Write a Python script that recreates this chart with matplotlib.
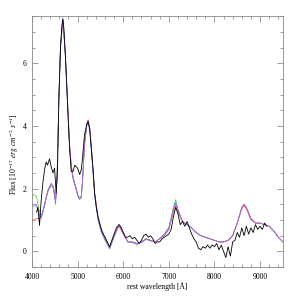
#!/usr/bin/env python3
"""Observed spectrum vs. four model spectra."""
import matplotlib

matplotlib.use("Agg")
import matplotlib.pyplot as plt
from matplotlib.ticker import MultipleLocator

plt.rcParams["font.family"] = ["Liberation Serif", "DejaVu Serif"]
plt.rcParams["mathtext.fontset"] = "stix"

# observed spectrum (black)
obs_wave = [
    4100, 4130, 4165, 4200, 4240, 4275, 4310, 4340, 4385, 4420,
    4460, 4495, 4530, 4560, 4590, 4625, 4655, 4677, 4700, 4740,
    4773, 4800, 4824, 4860, 4900, 4940, 4970, 5000, 5045, 5080,
    5103, 5150, 5200, 5230, 5260, 5300, 5340, 5374, 5410, 5447,
    5480, 5520, 5560, 5600, 5650, 5703, 5750, 5800, 5850, 5908,
    5950, 6000, 6050, 6100, 6150, 6200, 6250, 6300, 6350, 6400,
    6450, 6500, 6550, 6600, 6650, 6700, 6750, 6800, 6850, 6900,
    6950, 7000, 7050, 7100, 7150, 7200, 7250, 7300, 7350, 7400,
    7450, 7500, 7550, 7600, 7650, 7700, 7750, 7800, 7850, 7900,
    7950, 8000, 8050, 8100, 8150, 8200, 8250, 8300, 8350, 8400,
    8450, 8500, 8550, 8600, 8650, 8700, 8750, 8800, 8850, 8900,
    8950, 9000, 9050, 9100, 9150,
]
obs_flux = [
    1.25, 1.4, 0.83, 1.6, 2.2, 2.6, 2.85, 2.75, 2.95, 2.7,
    2.5, 2.65, 1.85, 2.6, 4.9, 6.5, 7.2, 7.4, 7.1, 6.0,
    4.9, 4.0, 3.3, 2.55, 2.55, 2.75, 2.7, 2.65, 2.45, 2.6,
    2.9, 3.7, 4.05, 4.15, 3.95, 3.3, 2.6, 1.85, 1.4, 1.1,
    0.9, 0.7, 0.55, 0.45, 0.3, 0.15, 0.35, 0.55, 0.75, 0.85,
    0.78, 0.6, 0.45, 0.45, 0.5, 0.4, 0.45, 0.35, 0.25, 0.35,
    0.5, 0.55, 0.45, 0.5, 0.4, 0.25, 0.3, 0.3, 0.4, 0.45,
    0.5, 0.55, 0.7, 1.1, 1.4, 1.2, 0.85, 0.95, 0.8, 0.95,
    0.75, 0.55, 0.4, 0.3, 0.1, 0.05, 0.15, 0.1, 0.2, 0.1,
    0.2, 0.15, 0.25, 0.05, 0.2, 0.0, -0.2, 0.15, -0.15, 0.3,
    0.35, 0.6, 0.45, 0.75, 0.5, 0.8, 0.55, 0.75, 0.6, 0.85,
    0.7, 0.8, 0.7, 0.9, 0.8,
]

# model spectra
mod_wave = [
    4000, 4050, 4100, 4150, 4200, 4250, 4300, 4350, 4420, 4470,
    4517, 4550, 4590, 4625, 4677, 4730, 4773, 4824, 4860, 4900,
    4950, 5007, 5040, 5080, 5110, 5150, 5200, 5230, 5270, 5323,
    5374, 5447, 5520, 5600, 5703, 5800, 5908, 6000, 6100, 6200,
    6300, 6400, 6500, 6600, 6700, 6800, 6900, 7000, 7100, 7150,
    7200, 7300, 7400, 7500, 7600, 7700, 7800, 7900, 8000, 8100,
    8200, 8300, 8400, 8500, 8600, 8650, 8700, 8800, 8900, 9000,
    9100, 9200, 9300, 9400, 9500,
]
mod_red = [
    1.0, 1.0, 1.05, 1.05, 1.1, 1.35, 1.65, 1.95, 2.16, 2.05,
    1.58, 2.4, 4.9, 6.5, 7.35, 6.3, 5.0, 3.4, 2.75, 2.37,
    2.1, 1.79, 1.7, 1.75, 2.3, 3.4, 4.05, 4.2, 3.9, 2.9,
    1.85, 1.1, 0.7, 0.4, 0.12, 0.5, 0.8, 0.55, 0.3, 0.3,
    0.25, 0.3, 0.4, 0.35, 0.3, 0.4, 0.5, 0.7, 1.25, 1.45,
    1.25, 0.95, 0.85, 0.75, 0.6, 0.5, 0.45, 0.4, 0.35, 0.3,
    0.3, 0.35, 0.5, 0.9, 1.35, 1.45, 1.35, 1.0, 0.9, 0.9,
    0.85, 0.8, 0.65, 0.45, 0.3,
]
mod_green = [
    1.8, 1.8, 1.75, 1.35, 1.1, 1.35, 1.65, 1.95, 2.16, 2.05,
    1.58, 2.4, 4.9, 6.5, 7.4, 6.3, 5.0, 3.4, 2.75, 2.37,
    2.1, 1.79, 1.7, 1.75, 2.3, 3.4, 4.0, 4.15, 3.9, 2.9,
    1.85, 1.1, 0.7, 0.45, 0.1, 0.5, 0.85, 0.6, 0.3, 0.3,
    0.25, 0.3, 0.4, 0.35, 0.3, 0.4, 0.55, 0.75, 1.4, 1.65,
    1.35, 0.95, 0.85, 0.75, 0.6, 0.5, 0.45, 0.4, 0.35, 0.3,
    0.3, 0.35, 0.5, 0.9, 1.4, 1.5, 1.4, 1.05, 0.9, 0.9,
    0.85, 0.8, 0.65, 0.45, 0.3,
]
mod_blue = [
    1.42, 1.45, 1.45, 1.2, 1.05, 1.3, 1.6, 1.9, 2.1, 2.0,
    1.5, 2.35, 4.9, 6.6, 7.45, 6.3, 4.9, 3.3, 2.65, 2.3,
    2.05, 1.75, 1.65, 1.7, 2.25, 3.35, 4.0, 4.1, 3.8, 2.8,
    1.75, 1.0, 0.6, 0.35, 0.08, 0.45, 0.85, 0.6, 0.3, 0.28,
    0.22, 0.28, 0.38, 0.33, 0.3, 0.4, 0.55, 0.75, 1.35, 1.55,
    1.3, 0.95, 0.85, 0.75, 0.6, 0.5, 0.45, 0.4, 0.35, 0.3,
    0.3, 0.35, 0.5, 0.9, 1.4, 1.5, 1.4, 1.05, 0.9, 0.9,
    0.85, 0.8, 0.65, 0.45, 0.3,
]
mod_magenta = [
    1.5, 1.5, 1.5, 1.2, 1.1, 1.35, 1.65, 1.95, 2.16, 2.05,
    1.58, 2.4, 4.9, 6.5, 7.4, 6.3, 5.0, 3.4, 2.75, 2.37,
    2.1, 1.79, 1.7, 1.75, 2.3, 3.4, 4.05, 4.15, 3.9, 2.9,
    1.85, 1.1, 0.7, 0.4, 0.12, 0.5, 0.85, 0.6, 0.3, 0.3,
    0.25, 0.3, 0.4, 0.35, 0.3, 0.4, 0.5, 0.7, 1.3, 1.5,
    1.3, 0.95, 0.85, 0.75, 0.6, 0.5, 0.45, 0.4, 0.35, 0.3,
    0.3, 0.35, 0.5, 0.9, 1.4, 1.5, 1.4, 1.05, 0.9, 0.9,
    0.85, 0.8, 0.65, 0.45, 0.3,
]

fig = plt.figure(figsize=(2.99, 2.99), dpi=100)
ax = fig.add_axes([0.107, 0.107, 0.839, 0.839])

for flux, col in [(mod_red, "#ff4040"), (mod_green, "#40c040"),
                  (mod_blue, "#5070ff"), (mod_magenta, "#d060d0")]:
    ax.plot(mod_wave, flux, color=col, lw=0.5)
ax.plot(obs_wave, obs_flux, color="black", lw=0.6)

ax.set_xlim(4000, 9500)
ax.set_ylim(-0.5, 7.5)
ax.xaxis.set_major_locator(MultipleLocator(1000))
ax.xaxis.set_minor_locator(MultipleLocator(200))
ax.yaxis.set_major_locator(MultipleLocator(2))
ax.yaxis.set_minor_locator(MultipleLocator(0.5))
ax.tick_params(which="both", direction="in", top=True, right=True,
               labelsize=5.5, color="#777777", width=0.5, pad=4)
ax.tick_params(which="major", length=4)
ax.tick_params(which="minor", length=2)
for s in ax.spines.values():
    s.set_color("#888888")
    s.set_linewidth(0.6)

ax.set_xlabel("rest wavelength [Å]", fontsize=5.5, labelpad=1.5)
ax.set_ylabel(r"Flux [10$^{-17}$ $erg\ cm^{-2}\ s^{-1}$]", fontsize=5.5)
ax.yaxis.set_label_coords(-0.045, 0.45)

fig.savefig("out.png", dpi=100)
